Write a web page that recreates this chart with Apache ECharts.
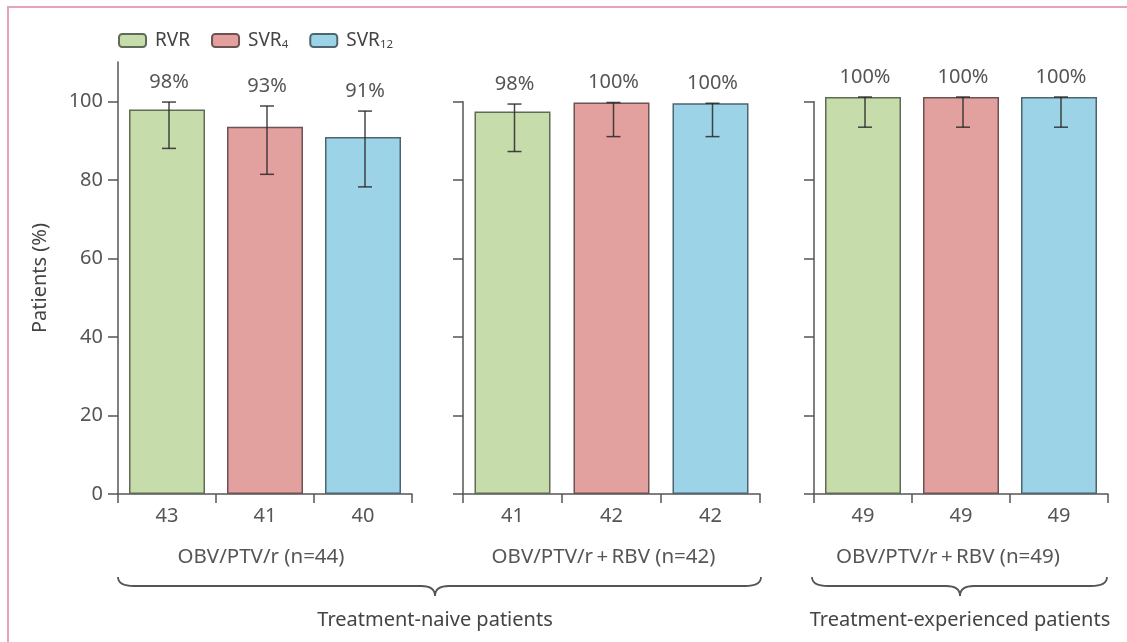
<!DOCTYPE html>
<html><head><meta charset="utf-8">
<script src="https://cdn.jsdelivr.net/npm/echarts@6/dist/echarts.min.js"></script>
<style>html,body{margin:0;padding:0;background:#fff}#c{width:1127px;height:642px}</style>
</head><body><div id="c"></div>
<script>
// ---- data ----
const measures = ['RVR', 'SVR4', 'SVR12'];
const groupLabels = ['OBV/PTV/r (n=44)', 'OBV/PTV/r\u2009+\u2009RBV (n=42)', 'OBV/PTV/r\u2009+\u2009RBV (n=49)'];
const patientCounts = [['43', '41', '40'], ['41', '42', '42'], ['49', '49', '49']];
const pctLabels = [['98%', '93%', '91%'], ['98%', '100%', '100%'], ['100%', '100%', '100%']];
const barValues = [[97.9, 93.5, 90.9], [97.5, 99.8, 99.6], [101.2, 101.2, 101.2]];
const ciLow = [[88.0, 81.4, 78.2], [87.3, 91.1, 91.1], [93.5, 93.5, 93.5]];
const ciHigh = [[99.8, 98.8, 97.5], [99.4, 99.8, 99.6], [101.2, 101.2, 101.2]];
const cohortLabels = ['Treatment-naive patients', 'Treatment-experienced patients'];
const yTicks = [0, 20, 40, 60, 80, 100];
const yAxisTitle = 'Patients (%)';

// ---- styles ----
const FONT = 'Noto Sans';
const TXT = '#555';
const fills = ['#c6dcaa', '#e2a19f', '#9dd3e6'];
const borders = ['#5f6b57', '#6d5252', '#4d6570'];
const namePad = [8, 16, 26];

const grids = [
  { left: 118, width: 294, top: 62, height: 432 },
  { left: 463, width: 297, top: 101.7, height: 392.3 },
  { left: 814, width: 294, top: 101.7, height: 392.3 }
];

const xAxes = grids.map((g, gi) => ({
  type: 'category', gridIndex: gi, data: patientCounts[gi],
  axisLine: { lineStyle: { color: '#555', width: 1.5 } },
  axisTick: { show: true, length: 9, lineStyle: { color: '#555', width: 1.5 } },
  axisLabel: { color: TXT, fontSize: 20, fontFamily: FONT, margin: 12 },
  name: groupLabels[gi], nameLocation: 'middle', nameGap: 53,
  nameTextStyle: { color: TXT, fontSize: 20.5, fontFamily: FONT, padding: [0, namePad[gi], 0, 0] }
}));

const yAxes = grids.map((g, gi) => ({
  type: 'value', gridIndex: gi, min: 0, max: gi === 0 ? 110 : 100, interval: 20,
  splitLine: { show: false },
  axisLine: { show: true, lineStyle: { color: '#555', width: 1.5 } },
  axisTick: { show: true, length: 10, customValues: yTicks, lineStyle: { color: '#555', width: 1.5 } },
  axisLabel: { show: gi === 0, customValues: yTicks, color: TXT, fontSize: 20, fontFamily: FONT, margin: 15 },
  name: gi === 0 ? yAxisTitle : '', nameLocation: 'middle', nameGap: 68, nameRotate: 90,
  nameTextStyle: { color: '#444', fontSize: 20, fontFamily: FONT }
}));

const series = [];
grids.forEach((g, gi) => {
  measures.forEach((m, mi) => {
    series.push({
      type: 'bar', name: m, xAxisIndex: gi, yAxisIndex: gi, stack: 'g' + gi,
      barWidth: 76, clip: false,
      itemStyle: { color: fills[mi], borderColor: borders[mi], borderWidth: 1.5 },
      data: barValues[gi].map((v, i) => (i === mi ? v : '-'))
    });
  });
  series.push({
    type: 'custom', xAxisIndex: gi, yAxisIndex: gi, clip: false, z: 5,
    encode: { x: 0, y: 1 },
    data: barValues[gi].map((v, i) => [i, v, ciLow[gi][i], ciHigh[gi][i]]),
    renderItem: function (params, api) {
      const x = api.value(0), v = api.value(1), lo = api.value(2), hi = api.value(3);
      const pLo = api.coord([x, lo]), pHi = api.coord([x, hi]);
      const pTop = api.coord([x, Math.max(v, hi)]);
      const cx = pLo[0] + 2, cap = 7;
      const ls = { stroke: 'rgba(40,40,40,0.85)', lineWidth: 1.5 };
      return {
        type: 'group', children: [
          { type: 'line', shape: { x1: cx, y1: pLo[1], x2: cx, y2: pHi[1] }, style: ls },
          { type: 'line', shape: { x1: cx - cap, y1: pLo[1], x2: cx + cap, y2: pLo[1] }, style: ls },
          { type: 'line', shape: { x1: cx - cap, y1: pHi[1], x2: cx + cap, y2: pHi[1] }, style: ls },
          { type: 'text', style: { text: pctLabels[gi][params.dataIndex], x: cx, y: pTop[1] - 20,
              align: 'center', verticalAlign: 'middle', fill: TXT, fontSize: 20, fontFamily: FONT } }
        ]
      };
    }
  });
});

function brace(x1, x2, tip, yEnd, yMid, yTip) {
  const st = { fill: 'none', stroke: '#555', lineWidth: 1.8 };
  const r = 16, t = 14;
  return {
    type: 'group', silent: true, children: [
      { type: 'bezierCurve', shape: { x1: x1, y1: yEnd, cpx1: x1, cpy1: yMid, x2: x1 + r, y2: yMid }, style: st },
      { type: 'line', shape: { x1: x1 + r, y1: yMid, x2: tip - t, y2: yMid }, style: st },
      { type: 'bezierCurve', shape: { x1: tip - t, y1: yMid, cpx1: tip, cpy1: yMid, x2: tip, y2: yTip }, style: st },
      { type: 'bezierCurve', shape: { x1: tip, y1: yTip, cpx1: tip, cpy1: yMid, x2: tip + t, y2: yMid }, style: st },
      { type: 'line', shape: { x1: tip + t, y1: yMid, x2: x2 - r, y2: yMid }, style: st },
      { type: 'bezierCurve', shape: { x1: x2 - r, y1: yMid, cpx1: x2, cpy1: yMid, x2: x2, y2: yEnd }, style: st }
    ]
  };
}

const option = {
  backgroundColor: '#fff',
  animation: false,
  textStyle: { fontFamily: FONT },
  legend: {
    left: 113, top: 26, itemWidth: 27, itemHeight: 13, itemGap: 21,
    data: measures,
    textStyle: { color: '#444', fontSize: 19, fontFamily: FONT, padding: [0, 0, 0, 4],
      rich: { s: { fontSize: 11.5, fontFamily: FONT, color: '#444', padding: [9, 0, 0, 0] } } },
    formatter: name => name.replace(/^SVR(\d+)$/, 'SVR{s|$1}')
  },
  grid: grids,
  xAxis: xAxes,
  yAxis: yAxes,
  series: series,
  graphic: [
    { type: 'rect', shape: { x: 8, y: 7, width: 1300, height: 800 }, style: { fill: 'none', stroke: '#e6a3b9', lineWidth: 2 }, silent: true },
    brace(118, 761, 435, 577, 586, 596),
    brace(812, 1107, 960, 577, 586, 596),
    { type: 'text', x: 435, y: 620, style: { text: cohortLabels[0], align: 'center', verticalAlign: 'middle', fill: '#444', fontSize: 20, fontFamily: FONT } },
    { type: 'text', x: 960, y: 620, style: { text: cohortLabels[1], align: 'center', verticalAlign: 'middle', fill: '#444', fontSize: 20, fontFamily: FONT } }
  ]
};

const chart = echarts.init(document.getElementById('c'), null, { renderer: 'canvas' });
chart.setOption(option);
</script>
</body></html>
